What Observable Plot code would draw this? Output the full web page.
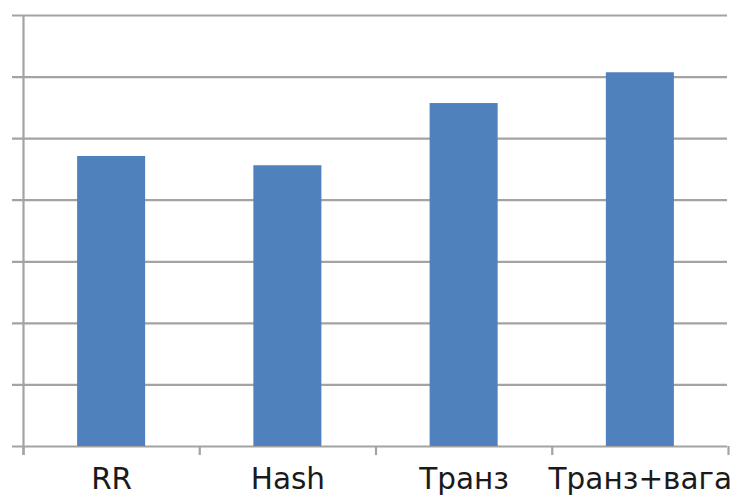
<!DOCTYPE html>
<html>
<head>
<meta charset="utf-8">
<script src="https://cdn.jsdelivr.net/npm/d3@7"></script>
<script src="https://cdn.jsdelivr.net/npm/@observablehq/plot@0.6"></script>
<style>
  html, body { margin: 0; padding: 0; background: #fff; }
  svg { display: block; }
</style>
</head>
<body>
<div id="chart"></div>
<script>
const categories = ["RR", "Hash", "Транз", "Транз+вага"];
const values = [4.71, 4.56, 5.57, 6.07];
const gridTicks = [0, 1, 2, 3, 4, 5, 6, 7];

const data = categories.map((c, i) => ({category: c, index: i, value: values[i]}));
const barHalf = 0.193;

const chart = Plot.plot({
  width: 741,
  height: 497,
  marginLeft: 23,
  marginRight: 13,
  marginTop: 15,
  marginBottom: 51,
  style: {fontFamily: "DejaVu Sans", background: "#fff"},
  x: {type: "linear", domain: [0, categories.length], axis: null},
  y: {domain: [0, 7], axis: null},
  marks: [
    Plot.ruleY(gridTicks, {stroke: "#a3a3a3", strokeWidth: 2.2, insetLeft: -11, insetRight: 1}),
    Plot.ruleX([0], {stroke: "#a3a3a3", strokeWidth: 2.2, insetBottom: -9}),
    Plot.axisX(d3.range(0, categories.length + 1), {tickSize: 9, tickFormat: () => "", stroke: "#a3a3a3", strokeWidth: 2.2}),
    Plot.rectY(data, {x1: d => d.index + 0.5 - barHalf, x2: d => d.index + 0.5 + barHalf, y: "value", fill: "#4f81bd"}),
    Plot.axisX(data.map(d => d.index + 0.5), {
      tickSize: 0,
      tickPadding: 22,
      tickFormat: (d, i) => categories[i],
      fontSize: 29.5,
      fill: "#1a1a1a"
    })
  ]
});
document.getElementById("chart").append(chart);
</script>
</body>
</html>
